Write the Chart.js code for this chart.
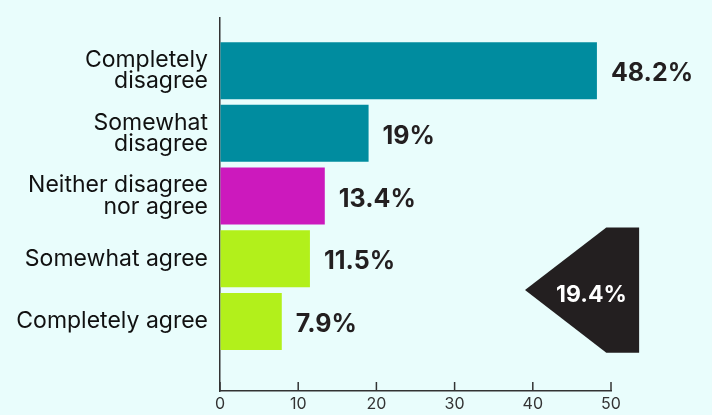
<!DOCTYPE html>
<html>
<head>
<meta charset="utf-8">
<script src="https://cdn.jsdelivr.net/npm/chart.js@4/dist/chart.umd.min.js"></script>
<style>
  html, body { margin: 0; padding: 0; background: #e9fdfc; }
  #wrap { width: 712px; height: 415px; position: relative; }
</style>
</head>
<body>
<div id="wrap"><canvas id="c" width="712" height="415"></canvas></div>
<script>
// ---- data ----
const categories = [
  ['Completely', 'disagree'],
  ['Somewhat', 'disagree'],
  ['Neither disagree', 'nor agree'],
  'Somewhat agree',
  'Completely agree'
];
const values = [48.2, 19, 13.4, 11.5, 7.9];
const barColors = ['#008c9f', '#008c9f', '#cc19bd', '#b2f01b', '#b2f01b'];
const xTicks = [0, 10, 20, 30, 40, 50];
const agreeTotalLabel = '19.4%';
const agreeIndices = [3, 4];

const DARK = '#231f20';

const bgPlugin = {
  id: 'bg',
  beforeDraw(chart) {
    const ctx = chart.ctx;
    ctx.save();
    ctx.fillStyle = '#e9fdfc';
    ctx.fillRect(0, 0, chart.width, chart.height);
    ctx.restore();
  }
};

const decoPlugin = {
  id: 'deco',
  afterDraw(chart) {
    const ctx = chart.ctx;
    const xs = chart.scales.x, ys = chart.scales.y;
    // inward ticks on x axis
    ctx.save();
    ctx.strokeStyle = '#333';
    ctx.lineWidth = 1.5;
    xs.ticks.forEach(t => {
      const px = xs.getPixelForValue(t.value);
      ctx.beginPath();
      ctx.moveTo(px, xs.top);
      ctx.lineTo(px, xs.top - 9);
      ctx.stroke();
    });
    ctx.restore();

    // value labels
    const meta = chart.getDatasetMeta(0);
    ctx.save();
    ctx.fillStyle = DARK;
    ctx.font = 'bold 25px Inter, "Open Sans", sans-serif';
    ctx.textBaseline = 'middle';
    ctx.textAlign = 'left';
    meta.data.forEach((bar, i) => {
      ctx.fillText(values[i] + '%', bar.x + 14, bar.y + 3);
    });
    ctx.restore();

    // arrow annotation spanning the agree categories
    const top = ys.getPixelForValue(agreeIndices[0] - 0.5);
    const bot = ys.getPixelForValue(agreeIndices[1] + 0.5);
    const mid = (top + bot) / 2;
    const tipX = xs.getPixelForValue(39);
    const bodyL = xs.getPixelForValue(49.4);
    const right = xs.getPixelForValue(53.6);
    ctx.save();
    ctx.fillStyle = DARK;
    ctx.beginPath();
    ctx.moveTo(tipX, mid);
    ctx.lineTo(bodyL, top);
    ctx.lineTo(right, top);
    ctx.lineTo(right, bot);
    ctx.lineTo(bodyL, bot);
    ctx.closePath();
    ctx.fill();
    ctx.fillStyle = '#ffffff';
    ctx.font = 'bold 23px Inter, "Open Sans", sans-serif';
    ctx.textAlign = 'center';
    ctx.textBaseline = 'middle';
    ctx.fillText(agreeTotalLabel, xs.getPixelForValue(47.5), mid + 5);
    ctx.restore();
  }
};

new Chart(document.getElementById('c'), {
  type: 'bar',
  data: {
    datasets: [{
      data: values.map((v, i) => ({ x: v, y: i })),
      backgroundColor: barColors,
      borderWidth: 0,
      barPercentage: 1,
      categoryPercentage: 0.91
    }]
  },
  options: {
    indexAxis: 'y',
    responsive: false,
    animation: false,
    devicePixelRatio: 1,
    layout: { padding: { top: 18, right: 101, bottom: 0, left: 0 } },
    plugins: { legend: { display: false }, tooltip: { enabled: false } },
    scales: {
      x: {
        type: 'linear',
        min: 0, max: 50,
        afterBuildTicks(scale) { scale.ticks = xTicks.map(v => ({ value: v })); },
        afterFit(scale) { scale.height = 24; },
        grid: { display: true, drawOnChartArea: false, drawTicks: false },
        border: { display: true, color: '#333', width: 1.5 },
        ticks: { color: '#333', font: { size: 16, family: 'Inter, "Open Sans", sans-serif' }, padding: 4 }
      },
      y: {
        type: 'linear',
        reverse: true,
        offset: false,
        min: -0.84, max: 5.11,
        afterBuildTicks(scale) { scale.ticks = categories.map((c, i) => ({ value: i })); },
        afterFit(scale) { scale.width = 220; scale.paddingTop = 0; scale.paddingBottom = 0; },
        grid: { display: false, drawTicks: false },
        border: { display: true, color: '#333', width: 1.5 },
        ticks: {
          color: '#111',
          padding: 12,
          autoSkip: false,
          font: { size: 23, family: 'Inter, "Open Sans", sans-serif', lineHeight: 0.92 },
          callback: (v) => categories[v]
        }
      }
    }
  },
  plugins: [bgPlugin, decoPlugin]
});
</script>
</body>
</html>
